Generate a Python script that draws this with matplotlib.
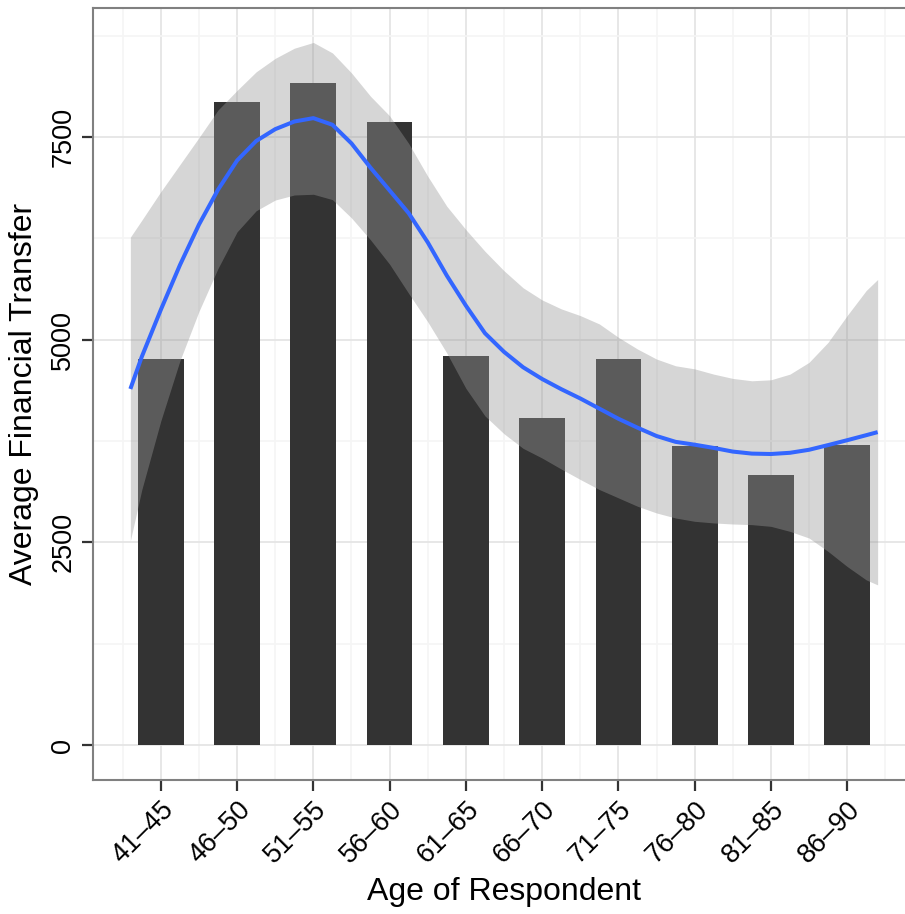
import numpy as np
import matplotlib.pyplot as plt
from matplotlib.ticker import FixedLocator

plt.rcParams['font.family'] = ['Liberation Sans', 'DejaVu Sans']

age_groups = ['41–45', '46–50', '51–55', '56–60', '61–65',
              '66–70', '71–75', '76–80', '81–85', '86–90']
avg_transfer = [4760, 7930, 8160, 7680, 4800, 4030, 4760, 3690, 3330, 3700]

# loess smooth (x in category positions, 1 = 41-45)
smooth_x = [0.6, 0.75, 1.0, 1.25, 1.5, 1.75, 2.0, 2.25, 2.5, 2.75,
            3.0, 3.25, 3.5, 3.75, 4.0, 4.25, 4.5, 4.75, 5.0, 5.25,
            5.5, 5.75, 6.0, 6.25, 6.5, 6.75, 7.0, 7.25, 7.5, 7.75,
            8.0, 8.25, 8.5, 8.75, 9.0, 9.25, 9.5, 9.75, 10.0, 10.25, 10.4]
smooth_fit = [4392, 4790, 5370, 5920, 6420, 6850, 7210, 7450, 7596, 7690,
              7732, 7650, 7420, 7120, 6840, 6560, 6200, 5790, 5420, 5080,
              4850, 4660, 4515, 4390, 4275, 4150, 4025, 3915, 3812, 3740,
              3705, 3665, 3620, 3595, 3590, 3605, 3642, 3700, 3760, 3822, 3860]
smooth_upper = [6264, 6473, 6826, 7159, 7492, 7833, 8074, 8303, 8469, 8594,
                8665, 8536, 8289, 8001, 7760, 7420, 7015, 6645, 6357, 6090,
                5850, 5640, 5490, 5380, 5297, 5194, 5029, 4885, 4761, 4678,
                4640, 4575, 4522, 4493, 4505, 4575, 4720, 4967, 5297, 5606, 5742]
smooth_lower = [2521, 3150, 4000, 4740, 5350, 5880, 6330, 6590, 6722, 6784,
                6793, 6727, 6501, 6230, 5930, 5570, 5220, 4835, 4400, 4060,
                3840, 3660, 3540, 3405, 3276, 3152, 3049, 2946, 2863, 2801,
                2760, 2740, 2727, 2719, 2698, 2636, 2554, 2389, 2203, 2038, 1976]

W, H = 905, 914
fig = plt.figure(figsize=(W / 100, H / 100), dpi=100)
ax = fig.add_axes([93 / W, (H - 780) / H, (915 - 93) / W, (780 - 8) / H])

pos = np.arange(1, len(age_groups) + 1)
ax.bar(pos, avg_transfer, width=0.6, color='#333333', zorder=2)
ax.fill_between(smooth_x, smooth_lower, smooth_upper, color='#999999',
                alpha=0.4, linewidth=0, zorder=3)
ax.plot(smooth_x, smooth_fit, color='#3366FF', linewidth=2.9, zorder=4,
        solid_capstyle='butt', solid_joinstyle='round')

ax.set_xlim(0.11, 10.89)
ax.set_ylim(-430, 9090)

ax.set_xticks(pos)
ax.set_xticklabels(age_groups, rotation=45, ha='right', va='top',
                   rotation_mode='anchor', fontsize=19.5)
ax.xaxis.set_minor_locator(FixedLocator(np.arange(0.5, 11, 1.0)))
ax.set_yticks([0, 2500, 5000, 7500])
ax.set_yticklabels(['0', '2500', '5000', '7500'], rotation=90,
                   va='center', fontsize=19.5)
ax.yaxis.set_minor_locator(FixedLocator([1250, 3750, 6250, 8750]))

ax.grid(which='major', color='#E3E3E3', linewidth=1.2, zorder=0)
ax.grid(which='minor', color='#F5F5F5', linewidth=1.2, zorder=0)
ax.set_axisbelow(True)

ax.tick_params(which='major', length=8, width=1.6, color='#333333',
               labelcolor='black', pad=4)
ax.tick_params(which='minor', length=0)
for side in ['top', 'left', 'bottom']:
    ax.spines[side].set_color('#808080')
    ax.spines[side].set_linewidth(1.5)
ax.spines['right'].set_visible(False)

ax.set_xlabel('Age of Respondent', fontsize=23, labelpad=6)
ax.set_ylabel('Average Financial Transfer', fontsize=23, labelpad=8)

fig.savefig('out.png', dpi=100)
